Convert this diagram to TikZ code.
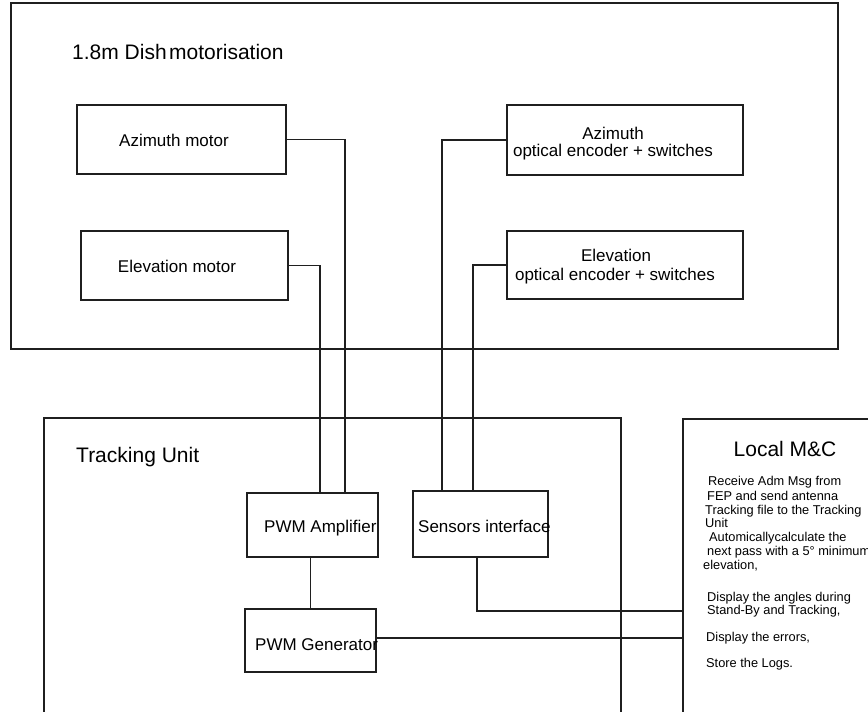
\documentclass[tikz,border=0pt]{standalone}
\usepackage{fontspec}
\setmainfont{Liberation Sans}
\begin{document}
\begin{tikzpicture}[x=1pt,y=-1pt,
  frame/.style={draw=black!88, line width=1.5pt, inner sep=0pt},
  wire/.style={draw=black!88, line width=1.5pt},
  title/.style={inner sep=0pt, font=\fontsize{21}{24}\selectfont},
  lbl/.style={inner sep=0pt, font=\fontsize{17}{20}\selectfont},
  note/.style={inner sep=0pt, anchor=base west, font=\fontsize{12.8}{14}\selectfont},
]
\useasboundingbox (0,0) rectangle (868,712);
\clip (0,0) rectangle (868,712);

% Dish motorisation enclosure and its parts
\node[frame, minimum width=827pt, minimum height=346pt] (dish) at (424.5,176) {};
\node[title, anchor=base west] (dishT) at (72,59.3) {1.8m Dish\hspace{0.12em}motorisation};

\node[frame, minimum width=209pt, minimum height=69pt] (azm) at (181.5,139.5) {};
\node[lbl, anchor=base] (azmT) at (174,146.5) {Azimuth motor};
\node[frame, minimum width=207pt, minimum height=69pt] (elm) at (184.5,265.5) {};
\node[lbl, anchor=base] (elmT) at (177,272.5) {Elevation motor};

\node[frame, minimum width=236pt, minimum height=70pt] (aze) at (625,140) {};
\node[lbl, anchor=base] (azeA) at (613,139) {Azimuth};
\node[lbl, anchor=base] (azeB) at (613,156.7) {optical encoder + switches};
\node[frame, minimum width=236pt, minimum height=68pt] (ele) at (625,265) {};
\node[lbl, anchor=base] (eleA) at (616,261.7) {Elevation};
\node[lbl, anchor=base] (eleB) at (615,280) {optical encoder + switches};

% Tracking unit enclosure and its parts
\node[frame, minimum width=577pt, minimum height=322pt] (tu) at (332.5,579) {};
\node[title, anchor=base west] (tuT) at (76,462) {Tracking Unit};

\node[frame, minimum width=131pt, minimum height=64pt] (amp) at (312.5,525) {};
\node[lbl, anchor=base west] (ampT) at (264,532.5) {PWM Amplifier};
\node[frame, minimum width=135pt, minimum height=66pt] (sens) at (480.5,524) {};
\node[lbl, anchor=base west] (sensT) at (418,532.5) {Sensors interface};
\node[frame, minimum width=131pt, minimum height=63pt] (gen) at (310.5,640.5) {};
\node[lbl, anchor=base west] (genT) at (255,650.5) {PWM Generator};

% Local monitoring and control panel
\node[frame, minimum width=217pt, minimum height=321pt] (mc) at (791.5,579.5) {};
\node[title, anchor=base] (mcT) at (785,456) {Local M\&C};
\node[note] (n1) at (708,485.3) {Receive Adm Msg from};
\node[note] (n2) at (707,500) {FEP and send antenna};
\node[note] (n3) at (705,514.3) {Tracking file to the Tracking};
\node[note] (n4) at (705,527.3) {Unit};
\node[note] (n5) at (709,541.7) {Automicallycalculate the};
\node[note] (n6) at (707,555) {next pass with a 5° minimum};
\node[note] (n7) at (703,569.3) {elevation,};
\node[note] (n8) at (707,601) {Display the angles during};
\node[note] (n9) at (707,614) {Stand-By and Tracking,};
\node[note] (n10) at (706,641) {Display the errors,};
\node[note] (n11) at (706,667.3) {Store the Logs.};

% Wiring
\draw[wire] (azm.east) -| ([xshift=32.5pt]amp.north);
\draw[wire] (elm.east) -| ([xshift=7.5pt]amp.north);
\draw[wire] (aze.west) -| ([xshift=-38.5pt]sens.north);
\draw[wire] (ele.west) -| ([xshift=-7.5pt]sens.north);
\draw[wire] (gen.north |- amp.south) -- (gen.north);
\coordinate (mcS) at (mc.west |- 0,611);
\draw[wire] ([xshift=-3.5pt]sens.south) |- (mcS);
\draw[wire] ([yshift=2.5pt]gen.east) -- ([yshift=2.5pt]gen.east -| mc.west);
\end{tikzpicture}
\end{document}
